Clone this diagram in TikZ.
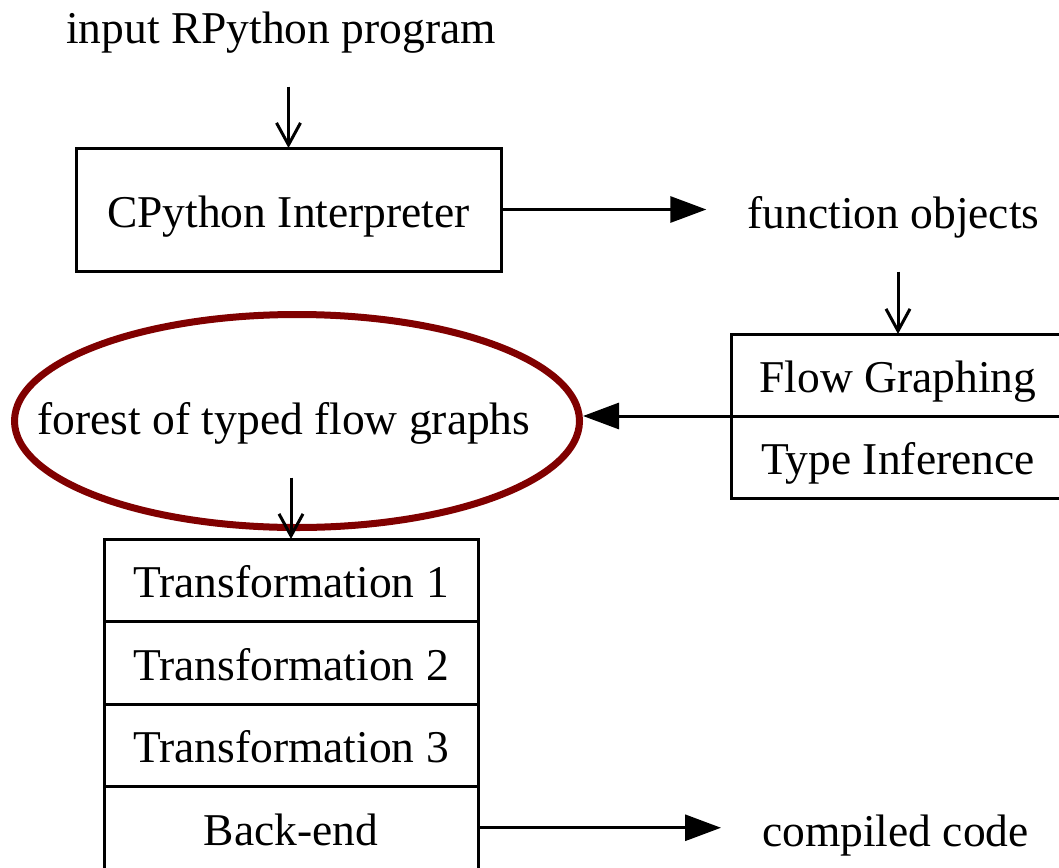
\documentclass[tikz,border=0pt]{standalone}
\usepackage{fontspec}
\setmainfont{Liberation Serif}
\usetikzlibrary{arrows.meta,shapes.geometric}
\definecolor{ringred}{HTML}{800000}
\begin{document}
\begin{tikzpicture}[x=1pt,y=-1pt,
  every node/.style={font=\fontsize{45.5}{54}\selectfont, text height=35pt, text depth=0pt},
  box/.style={draw, line width=3pt, inner sep=0pt, outer sep=0pt},
  lbl/.style={inner xsep=41pt, inner ysep=43pt},
  vee/.style={-{Straight Barb[length=22pt,width=24pt]}, line width=3pt},
  tri/.style={-{Triangle[length=36pt,width=26pt]}, line width=3pt}]
\useasboundingbox (0,0) rectangle (1059,867);
\clip (0,0) rectangle (1059,867);

% front end
\node[lbl] (in) at (281,26) {input RPython program};
\node[box, minimum width=425pt, minimum height=123pt] (cp) at (288.5,209.5) {CPython Interpreter};
\node[lbl] (fo) at (893.5,211) {function objects};

% annotator record
\node[box, minimum width=334pt, minimum height=82pt] (fg) at (898,375) {Flow Graphing};
\node[box, minimum width=334pt, minimum height=82pt] (ti) at (898,457) {Type Inference};

% highlighted intermediate result
\node[ellipse, draw=ringred, line width=7pt, inner sep=0pt,
      minimum width=565pt, minimum height=213pt] (ring) at (297,421) {};
\node[lbl] (ft) at (284,417) {forest of typed flow graphs};

% back-end record
\node[box, minimum width=374pt, minimum height=82.5pt] (t1) at (291,580.25) {Transformation 1};
\node[box, minimum width=374pt, minimum height=82.5pt] (t2) at (291,662.75) {Transformation 2};
\node[box, minimum width=374pt, minimum height=82.5pt] (t3) at (291,745.25) {Transformation 3};
\node[box, minimum width=374pt, minimum height=82.5pt] (be) at (291,827.75) {Back-end};
\node[lbl] (cc) at (895.5,829) {compiled code};

% connectors
\draw[vee] (in.south -| cp.north) -- (cp.north);
\draw[tri] (cp.east) -- (cp.east -| fo.west);
\draw[vee] (fo.south -| fg.north) -- (fg.north);
\draw[tri] (fg.south west) -- (fg.south west -| ring.east);
\draw[vee] (ft.south -| t1.north) -- (t1.north);
\draw[tri] (be.east) -- (be.east -| cc.west);
\end{tikzpicture}
\end{document}
